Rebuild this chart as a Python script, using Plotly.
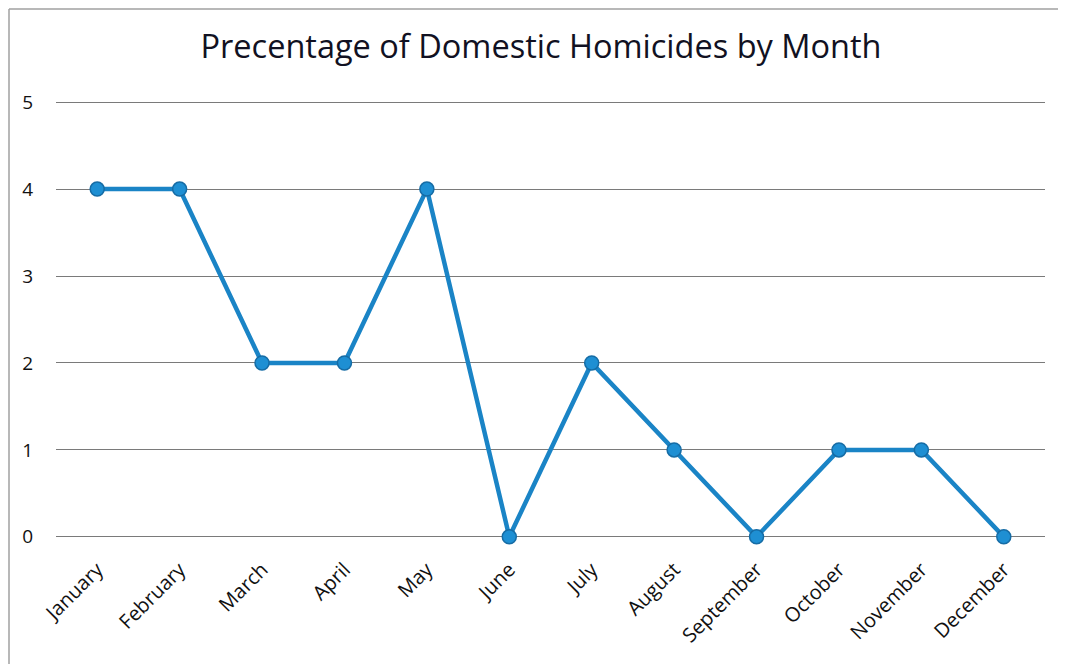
import plotly.graph_objects as go

months = ["January", "February", "March", "April", "May", "June", "July",
          "August", "September", "October", "November", "December"]
percent = [4, 4, 2, 2, 4, 0, 2, 1, 0, 1, 1, 0]
y_ticks = [0, 1, 2, 3, 4, 5]

# page body has an 8px offset; compensate in the figure margins
OFF = 8
UNIT = 87.0          # pixels per y unit
PAD = 0.025          # y range padding so the 0 and 5 gridlines are drawn
L, PW = 56 - OFF, 989
T = int(round(102 - OFF - PAD * UNIT))
PH = int(round((5 + 2 * PAD) * UNIT))
R = 1066 - L - PW
B = 664 - T - PH

fig = go.Figure()
fig.add_trace(go.Scatter(
    x=months, y=percent, mode="lines+markers",
    line=dict(color="#1a84c6", width=4.5),
    marker=dict(size=14, color="#1e8fd3", line=dict(color="#166ca5", width=1.5)),
    cliponaxis=False,
))

fig.update_layout(
    width=1066, height=664,
    margin=dict(l=L, r=R, t=T, b=B),
    paper_bgcolor="white", plot_bgcolor="white",
    showlegend=False,
    title=dict(text="Precentage of Domestic Homicides by Month",
               x=(541 - OFF) / 1066, xanchor="center",
               y=1 - (47 - OFF) / 664, yanchor="middle",
               font=dict(family="Open Sans", size=32.5, color="#111122")),
    font=dict(family="Open Sans", color="#111111"),
    xaxis=dict(type="category", range=[-0.5, 11.5], showgrid=False,
               showline=False, zeroline=False, tickangle=-45,
               tickfont=dict(size=20), ticks="", ticklabelstandoff=14),
    yaxis=dict(range=[-PAD, 5 + PAD], tickvals=y_ticks, showgrid=True,
               gridcolor="#7a7a7a", gridwidth=1, zeroline=False,
               showline=False, tickfont=dict(size=19), ticks="",
               ticklabelstandoff=22),
    shapes=[
        dict(type="line", xref="paper", yref="paper",
             x0=(1 - L) / PW, x1=(1060 - L) / PW,
             y0=(664 - 1 - B) / PH, y1=(664 - 1 - B) / PH,
             line=dict(color="#a0a0a0", width=1.5)),
        dict(type="line", xref="paper", yref="paper",
             x0=(1 - L) / PW, x1=(1 - L) / PW,
             y0=(664 - 1 - B) / PH, y1=-B / PH,
             line=dict(color="#a0a0a0", width=1.5)),
    ],
)

fig.write_html("out.html")
